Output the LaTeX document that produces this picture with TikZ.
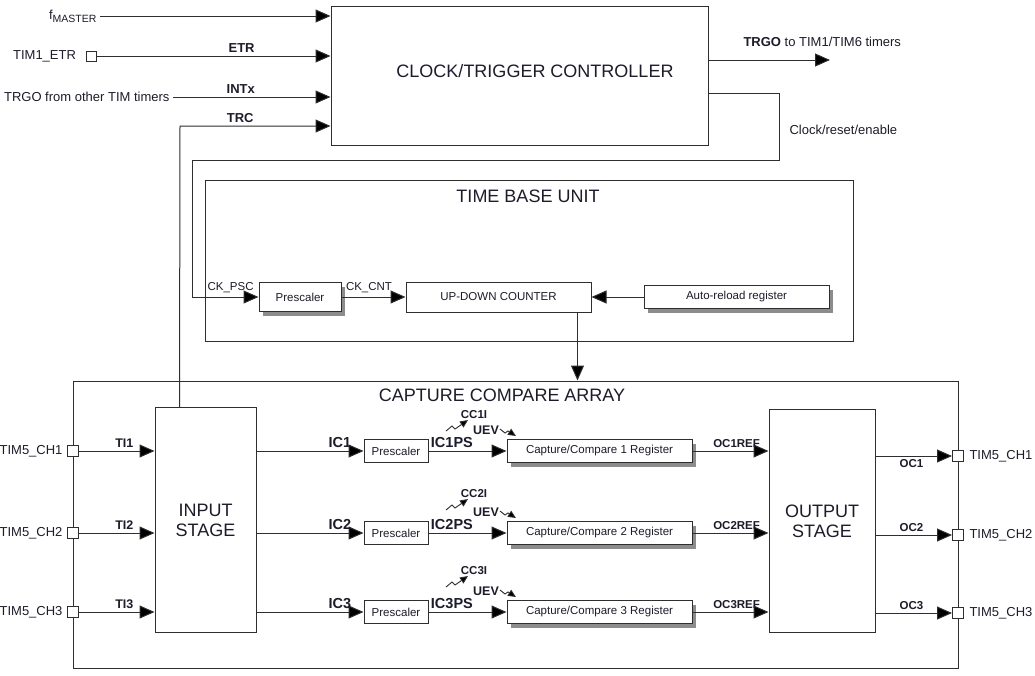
\documentclass[tikz,border=0pt]{standalone}
\usepackage{fontspec}
\setmainfont{Liberation Sans}
\usetikzlibrary{arrows.meta,shadows}
\definecolor{ink}{HTML}{1C1C2A}
\definecolor{linegray}{HTML}{2E2E2E}
\tikzset{
    big/.style={font=\fontsize{18}{20}\selectfont},
    mid/.style={font=\fontsize{13}{15}\selectfont},
    sml/.style={font=\fontsize{11.5}{13}\selectfont},
    tagm/.style={font=\bfseries\fontsize{13}{15}\selectfont},
    tagl/.style={font=\bfseries\fontsize{14.5}{16}\selectfont},
    tagt/.style={font=\bfseries\fontsize{12.5}{14}\selectfont},
    tags/.style={font=\bfseries\fontsize{11.5}{13}\selectfont},
    sig/.style={draw=linegray, line width=1pt, -{Triangle[length=15pt,width=13pt,fill=black]}},
    zap/.style={draw=linegray, line width=0.9pt, -{Triangle[length=8pt,width=7pt,fill=black]}},
    blk/.style={draw=linegray, line width=1pt, fill=white, inner sep=0pt},
    shd/.style={blk, general shadow={fill=black!45, shadow xshift=4pt, shadow yshift=-4pt}},
    port/.style={draw=linegray, line width=1pt, fill=white, minimum size=11pt, inner sep=0pt}
}
\begin{document}
\begin{tikzpicture}[x=1pt,y=-1pt, every node/.append style={text=ink}]
    \useasboundingbox (0,0) rectangle (1035,675);
    %units:
    \node[blk, minimum width=648pt, minimum height=161pt] (tbu) at (529,260.5) {};
    \node[blk, minimum width=885pt, minimum height=287pt] (cca) at (515.5,524.5) {};
    \node[big] at (528,196) {TIME BASE UNIT};
    \node[big] at (502,395) {CAPTURE COMPARE ARRAY};
    \node[blk, minimum width=377pt, minimum height=139pt] (ctrl) at (519.5,75.5) {};
    \node[big] at (535,71) {CLOCK/TRIGGER CONTROLLER};

    %time base:
    \node[shd, sml, minimum width=82pt, minimum height=29pt] (psc0) at (300,297) {Prescaler};
    \node[blk, sml, minimum width=185pt, minimum height=30pt] (cnt) at (498.5,297) {UP-DOWN COUNTER};
    \node[shd, sml, minimum width=185pt, minimum height=23pt] (arr) at (736.5,297) {Auto-reload register};
    \draw[sig] (psc0) -- node[sml, above, pos=0.43]{CK\_CNT} (cnt);
    \draw[sig] (arr) -- (cnt);
    \draw[sig] ([xshift=-14pt]cnt.south east) -- ([xshift=-14pt]cnt.south east |- cca.north);

    %stages:
    \node[blk, big, align=center, minimum width=101pt, minimum height=225pt] (instage) at (205.5,520) {INPUT\\STAGE};
    \node[blk, big, align=center, minimum width=106pt, minimum height=223pt] (outstage) at (822,521) {OUTPUT\\STAGE};

    %controller inputs:
    \node[mid, anchor=east] (fm) at (100,16) {f\raisebox{-3pt}{\fontsize{10.5}{12}\selectfont MASTER}};
    \draw[sig] (fm.east) -- (fm.east -| ctrl.west);
    \node[port, minimum size=10pt] (etr) at (91,56) {};
    \node[mid, anchor=east] at ([xshift=-6pt]etr.west) {TIM1\_ETR};
    \draw[sig] (etr) -- node[tagm, above, pos=0.62]{ETR} (etr -| ctrl.west);
    \node[mid, anchor=east] (trgoin) at (173,97) {TRGO from other TIM timers};
    \draw[sig] (trgoin) -- node[tagm, above, pos=0.43]{INTx} (trgoin -| ctrl.west);
    \coordinate (trc) at (180,126);
    \draw[sig] ([xshift=25pt]instage.north west) -- (trc) -- node[tagm, above, pos=0.4]{TRC} (trc -| ctrl.west);

    %controller outputs:
    \coordinate (trgo) at (830,60);
    \draw[sig] (trgo -| ctrl.east) -- (trgo);
    \node[mid, anchor=west] at (740,42) {\textbf{TRGO} to TIM1/TIM6 timers};
    \coordinate (cre) at (779,93);
    \coordinate (ckret) at (192,160);
    \draw[sig] (cre -| ctrl.east) -- (cre) |- (ckret) |- node[sml, above, pos=0.79]{CK\_PSC} (psc0.west);
    \node[mid, anchor=west] at (786,130) {Clock/reset/enable};

    %channels:
    \foreach \i/\y/\o/\z/\p in {1/451/456/0/below,2/533/535/3/above,3/612/613/5/above}{
        \node[port] (pi\i) at (73,\y) {};
        \node[mid, anchor=east] at ([xshift=-1pt]pi\i.west) {TIM5\_CH\i};
        \node[port] (po\i) at (958,\o) {};
        \node[mid, anchor=west] at ([xshift=2pt]po\i.east) {TIM5\_CH\i};
        \node[blk, sml, minimum width=64pt, minimum height=23pt] (psc\i) at (396,\y) {Prescaler};
        \node[shd, sml, minimum width=185pt, minimum height=23pt] (ccr\i) at (599.5,\y) {Capture/Compare \i{} Register};
        \draw[sig] (pi\i) -- node[tagt, above, pos=0.6]{TI\i} (pi\i -| instage.west);
        \draw[sig] (pi\i -| instage.east) -- node[tagl, above, pos=0.78]{IC\i} (psc\i);
        \draw[sig] (psc\i) -- node[tagl, above, pos=0.3]{IC\i PS} (ccr\i);
        \draw[sig] (ccr\i) -- node[tags, above, pos=0.58]{OC\i REF} (ccr\i -| outstage.west);
        \draw[sig] (po\i -| outstage.east) -- node[tags, \p, pos=0.47]{OC\i} (po\i);
        \draw[zap] (446,{\y-20-\z}) -- ++(6,-5) -- ++(3,3) -- ++(13,-9);
        \node[tags] at (474,{\y-36-\z}) {CC\i I};
        \node[tagt] at (486,{\y-21}) {UEV};
        \draw[zap] (500,{\y-22}) -- ++(5,4) -- ++(3,-2) -- ++(8,5);
    }
\end{tikzpicture}
\end{document}
